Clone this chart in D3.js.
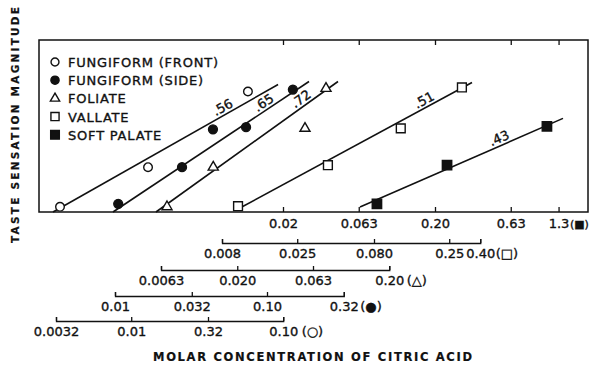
<!DOCTYPE html>
<html>
<head>
<meta charset="utf-8">
<script src="https://cdn.jsdelivr.net/npm/d3@7"></script>
<style>
  body { margin: 0; background: #fff; }
  text { font-family: "DejaVu Sans", sans-serif; fill: #111; stroke: #111; stroke-width: 0.35px; }
</style>
</head>
<body>
<div id="chart"></div>
<script>
const seriesNames = [
  "FUNGIFORM (FRONT)",
  "FUNGIFORM (SIDE)",
  "FOLIATE",
  "VALLATE",
  "SOFT PALATE",
];
const seriesSymbols = ["○", "●", "△", "□", "■"];
const exponents = [".56", ".65", ".72", ".51", ".43"];

// [molar concentration, magnitude]
const frontPoints = [[0.0034, 1.08], [0.0129, 1.95], [0.0586, 6.03]];
const sidePoints = [[0.0105, 1.13], [0.0276, 1.95], [0.0441, 3.43], [0.0728, 3.54], [0.148, 6.21]];
const foliatePoints = [[0.0069, 1.08], [0.0139, 1.95], [0.0558, 3.48], [0.0767, 6.31]];
const vallatePoints = [[0.0102, 1.09], [0.0398, 2.01], [0.12, 3.48], [0.303, 6.41]];
const palatePoints = [[0.083, 1.13], [0.24, 2.01], [1.09, 3.59]];

// fitted power functions, start and end
const frontFit = [[0.00306, 1.0], [0.0925, 6.69]];
const sideFit = [[0.0097, 1.0], [0.189, 7.0]];
const foliateFit = [[0.00584, 1.0], [0.092, 7.0]];
const vallateFit = [[0.0102, 1.045], [0.353, 6.89]];
const palateFit = [[0.0642, 1.077], [1.39, 4.04]];

// concentration axes
const frontTicks = [0.0032, 0.01, 0.032, 0.1];
const frontTickLabels = ["0.0032", "0.01", "0.32", "0.10"];
const sideTicks = [0.01, 0.032, 0.1, 0.32];
const sideTickLabels = ["0.01", "0.032", "0.10", "0.32"];
const foliateTicks = [0.0063, 0.02, 0.063, 0.2];
const foliateTickLabels = ["0.0063", "0.020", "0.063", "0.20"];
const vallateTicks = [0.008, 0.025, 0.08, 0.25, 0.4];
const vallateTickLabels = ["0.008", "0.025", "0.080", "0.25", "0.40"];
const palateTicks = [0.02, 0.063, 0.2, 0.63, 1.3];
const palateTickLabels = ["0.02", "0.063", "0.20", "0.63", "1.3"];

const width = 591,
  height = 366,
  frame = { left: 39, right: 588, top: 40, bottom: 212 },
  pxPerDecade = 152,
  ink = "#111";

const svg = d3
  .select("#chart")
  .append("svg")
  .attr("width", width)
  .attr("height", height);

const yScale = d3.scaleLog().domain([1, 13]).range([frame.bottom, frame.top]);

function concScale(ticks, x0) {
  const lo = ticks[0],
    hi = ticks[ticks.length - 1];
  return d3
    .scaleLog()
    .domain([lo, hi])
    .range([x0, x0 + pxPerDecade * Math.log10(hi / lo)]);
}

const tissues = [
  { points: frontPoints, fit: frontFit, ticks: frontTicks, labels: frontTickLabels, x: concScale(frontTicks, 56), axisY: 321, type: d3.symbolCircle, size: 58, filled: false, at: 0.77, gap: 4 },
  { points: sidePoints, fit: sideFit, ticks: sideTicks, labels: sideTickLabels, x: concScale(sideTicks, 115), axisY: 296, type: d3.symbolCircle, size: 62, filled: true, at: 0.79, gap: 2 },
  { points: foliatePoints, fit: foliateFit, ticks: foliateTicks, labels: foliateTickLabels, x: concScale(foliateTicks, 161), axisY: 270, type: d3.symbolTriangle, size: 44, filled: false, at: 0.82, gap: 3 },
  { points: vallatePoints, fit: vallateFit, ticks: vallateTicks, labels: vallateTickLabels, x: concScale(vallateTicks, 222), axisY: 243, type: d3.symbolSquare, size: 78, filled: false, at: 0.81, gap: 1 },
  { points: palatePoints, fit: palateFit, ticks: palateTicks, labels: palateTickLabels, x: concScale(palateTicks, 283), axisY: frame.bottom, type: d3.symbolSquare, size: 88, filled: true, at: 0.7, gap: 1 },
];
tissues.forEach((t, i) => {
  t.name = seriesNames[i];
  t.symbol = seriesSymbols[i];
  t.exponent = exponents[i];
});
const palate = tissues[4];

// frame
svg
  .append("rect")
  .attr("x", frame.left)
  .attr("y", frame.top)
  .attr("width", frame.right - frame.left)
  .attr("height", frame.bottom - frame.top)
  .attr("fill", "none")
  .attr("stroke", ink)
  .attr("stroke-width", 1.5);

function styleAxis(g) {
  g.attr("font-size", 13).attr("font-family", "DejaVu Sans, sans-serif");
  g.selectAll("path, line").attr("stroke", ink).attr("stroke-width", 1.3);
  g.selectAll("text").attr("fill", ink);
}

// main axis (soft palate) on the frame
svg
  .append("g")
  .attr("transform", `translate(0, ${frame.bottom})`)
  .call(
    d3.axisBottom(palate.x)
      .tickValues(palate.ticks)
      .tickFormat((d, i) => palate.labels[i])
      .tickSizeInner(-5)
      .tickSizeOuter(0)
      .tickPadding(7)
  )
  .call(styleAxis)
  .call((g) => g.select(".domain").remove());

svg
  .append("g")
  .attr("transform", `translate(0, ${frame.top})`)
  .call(d3.axisTop(palate.x).tickValues(palate.ticks).tickFormat("").tickSizeInner(-5).tickSizeOuter(0))
  .call(styleAxis)
  .call((g) => g.select(".domain").remove());

// bracket axes for the other regions
tissues.slice(0, 4).forEach((t) => {
  svg
    .append("g")
    .attr("transform", `translate(0, ${t.axisY})`)
    .call(
      d3.axisBottom(t.x)
        .tickValues(t.ticks)
        .tickFormat((d, i) => t.labels[i])
        .tickSizeInner(-4)
        .tickSizeOuter(-4)
        .tickPadding(6)
    )
    .call(styleAxis);
});

// region symbol after the last tick label
tissues.forEach((t) => {
  const last = t.ticks[t.ticks.length - 1];
  const tmp = svg.append("text").attr("font-size", 13).text(t.labels[t.labels.length - 1]);
  const len = tmp.node().getComputedTextLength();
  tmp.remove();
  svg
    .append("text")
    .attr("x", t.x(last) + len / 2 + t.gap)
    .attr("y", t.axisY + (t === palate ? 16 : 15))
    .attr("font-size", t === palate ? 11 : 13)
    .text(`(${t.symbol})`);
});

// fitted lines
const line = d3.line();
tissues.forEach((t) => {
  const pts = t.fit.map((d) => [t.x(d[0]), yScale(d[1])]);
  svg
    .append("path")
    .attr("d", line(pts))
    .attr("fill", "none")
    .attr("stroke", ink)
    .attr("stroke-width", 1.6);

  const px = pts[0][0] + t.at * (pts[1][0] - pts[0][0]);
  const py = pts[0][1] + t.at * (pts[1][1] - pts[0][1]);
  const angle = (Math.atan2(pts[1][1] - pts[0][1], pts[1][0] - pts[0][0]) * 180) / Math.PI;
  svg
    .append("text")
    .attr("transform", `translate(${px}, ${py}) rotate(${angle})`)
    .attr("text-anchor", "middle")
    .attr("dy", -3)
    .attr("font-size", 13)
    .text(t.exponent);
});

// data points
tissues.forEach((t) => {
  svg
    .append("g")
    .selectAll("path")
    .data(t.points)
    .enter()
    .append("path")
    .attr("transform", (d) => `translate(${t.x(d[0])}, ${yScale(d[1])})`)
    .attr("d", d3.symbol().type(t.type).size(t.size))
    .attr("fill", t.filled ? ink : "#fff")
    .attr("stroke", ink)
    .attr("stroke-width", 1.4);
});

// legend
const legend = svg
  .selectAll(".legend")
  .data(tissues)
  .enter()
  .append("g")
  .attr("class", "legend")
  .attr("transform", (d, i) => `translate(55, ${62 + 18.2 * i})`);

legend
  .append("path")
  .attr("d", (d) => d3.symbol().type(d.type).size(d.size * 0.85)())
  .attr("fill", (d) => (d.filled ? ink : "#fff"))
  .attr("stroke", ink)
  .attr("stroke-width", 1.4);

legend
  .append("text")
  .attr("x", 13)
  .attr("y", 5)
  .attr("font-size", 13)
  .attr("letter-spacing", 0.8)
  .text((d) => d.name);

// axis titles
svg
  .append("text")
  .attr("x", 153)
  .attr("y", 361)
  .attr("font-size", 11.5)
  .attr("font-weight", "bold")
  .style("stroke-width", "0.2px")
  .attr("textLength", 319)
  .attr("lengthAdjust", "spacing")
  .text("MOLAR  CONCENTRATION  OF  CITRIC  ACID");

svg
  .append("text")
  .attr("transform", "translate(19, 243) rotate(-90)")
  .attr("font-size", 10.5)
  .attr("font-weight", "bold")
  .style("stroke-width", "0.2px")
  .attr("textLength", 236)
  .attr("lengthAdjust", "spacing")
  .text("TASTE  SENSATION  MAGNITUDE");
</script>
</body>
</html>
